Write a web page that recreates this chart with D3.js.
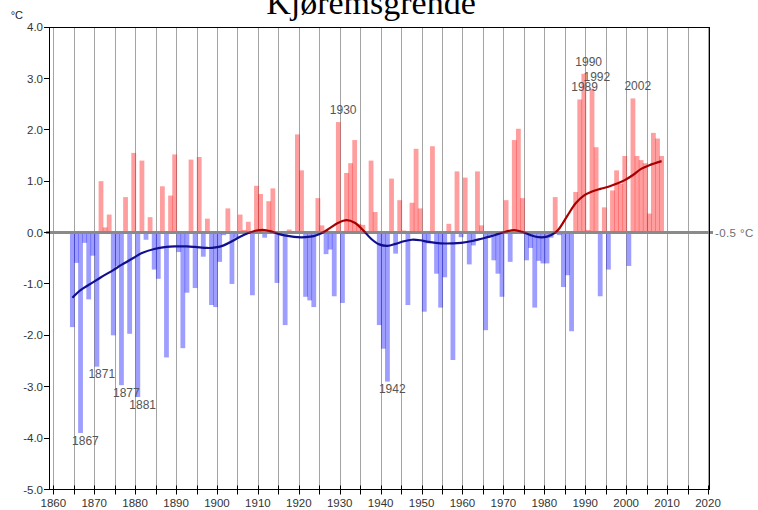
<!DOCTYPE html>
<html>
<head>
<meta charset="utf-8">
<script src="https://cdn.jsdelivr.net/npm/d3@7"></script>
<style>
  html, body { margin: 0; padding: 0; background: #ffffff; }
  svg { display: block; }
</style>
</head>
<body>
<svg id="chart" width="758" height="510"></svg>
<script>
// Station and units
const title = "Kjøremsgrende";
const unitLabel = "°C";
const baselineLabel = "-0.5 °C";

// Yearly temperature deviation (°C), one value per year starting at firstYear
const firstYear = 1865;
const anomalies = [
  -1.84, -0.59, -3.90, -0.20, -1.30, -0.45, -2.61,  1.00,  0.10,  0.35,   // 1865-1874
  -2.00, -0.65, -2.97,  0.69, -1.97,  1.55, -3.20,  1.40, -0.14,  0.30,   // 1875-1884
  -0.72, -0.90,  0.90, -2.43,  0.72,  1.52, -0.38, -2.25, -1.17,  1.42,   // 1885-1894
  -1.08,  1.47, -0.47,  0.27, -1.41, -1.45, -0.57, -0.05,  0.47, -1.00,   // 1895-1904
  -0.10,  0.35,  0.05,  0.21, -1.22,  0.91,  0.75, -0.10,  0.61,  0.86,   // 1905-1914
  -0.98, -0.03, -1.80,  0.06,  0.03,  1.91,  1.21, -1.25, -1.32, -1.45,   // 1915-1924
   0.67,  0.14, -0.42, -0.33, -1.24,  2.15, -1.37,  1.16,  1.35,  1.80,   // 1925-1934
   0.17,  0.15, -0.03,  1.40,  0.40, -1.80, -2.26, -2.90,  1.05, -0.41,   // 1935-1944
   0.63,  0.04, -1.41,  0.58,  1.63,  0.47, -1.54, -0.21,  1.68, -0.80,   // 1945-1954
  -1.46, -0.87,  0.17, -2.48,  1.19, -0.09,  1.07, -0.62, -0.25,  1.19,   // 1955-1964
   0.14, -1.90, -0.08, -0.54, -0.80, -1.25,  0.63, -0.57,  1.80,  2.02,   // 1965-1974
   0.67, -0.54, -0.30, -1.46, -0.55, -0.60, -0.60, -0.10,  0.69, -0.05,   // 1975-1984
  -1.06, -0.83, -1.92,  0.79,  2.59,  3.09,  0.05,  2.80,  1.66, -1.24,   // 1985-1994
   0.49, -0.72,  0.82,  1.21,  0.95,  1.49, -0.65,  2.61,  1.49,  1.41,   // 1995-2004
   1.35,  0.37,  1.94,  1.83,  1.49                                        // 2005-2009
];

// Smoothed (low-pass filtered) deviation curve
const smoothYears = [
  1865, 1867, 1870, 1872, 1875, 1877, 1880, 1882, 1885, 1888, 1890, 1893, 1895, 1898,
  1900, 1902, 1904, 1906, 1908, 1910, 1912, 1914, 1916, 1918, 1920, 1922, 1924, 1926,
  1928, 1930, 1932, 1934, 1936, 1938, 1940, 1942, 1944, 1946, 1948, 1950, 1952, 1955,
  1958, 1960, 1963, 1965, 1967, 1969, 1971, 1973, 1975, 1977, 1979, 1981, 1983, 1984,
  1986, 1988, 1990, 1992, 1994, 1996, 1998, 2000, 2002, 2004, 2006, 2009
];
const smoothValues = [
  -1.27, -1.12, -0.97, -0.87, -0.73, -0.63, -0.49, -0.40, -0.32, -0.28, -0.27, -0.27, -0.28, -0.30,
  -0.29, -0.25, -0.17, -0.08, -0.01,  0.04,  0.05,  0.01, -0.04, -0.07, -0.09, -0.09, -0.07, -0.01,
   0.09,  0.19,  0.24,  0.19,  0.05, -0.12, -0.23, -0.26, -0.22, -0.17, -0.14, -0.15, -0.18, -0.21,
  -0.21, -0.20, -0.16, -0.12, -0.08, -0.03,  0.02,  0.05,  0.01, -0.05, -0.09, -0.08,  0.00,  0.08,
   0.33,  0.57,  0.72,  0.80,  0.85,  0.89,  0.95,  1.02,  1.12,  1.24,  1.31,  1.39
];

// Axis ticks and annotated years
const yTicks = [-5, -4, -3, -2, -1, 0, 1, 2, 3, 4];
const xGridYears = d3.range(1860, 2021, 5);
const xLabelYears = d3.range(1860, 2021, 10);
const markedYears = [1867, 1871, 1877, 1881, 1930, 1942, 1989, 1990, 1992, 2002];

// ---------------------------------------------------------------------------
const svg = d3.select("#chart");
const frame = { left: 49.5, right: 709.5, top: 27.5, bottom: 489.5 };

const x = d3.scaleLinear().domain([1860, 2020]).range([53.3, 708]);
const y = d3.scaleLinear().domain([-5, 4]).range([489.5, 27]);
const barShift = -1.4;      // bars sit slightly left of their year tick
const barW = 4.8;
const cx = yr => x(yr) + barShift;
const y0 = y(0);
const crisp = v => Math.round(v) + 0.5;

const series = anomalies.map((v, i) => ({ year: firstYear + i, value: v }));
const smooth = smoothYears.map((yr, i) => ({ year: yr, value: smoothValues[i] }));

const sansFont = "'Liberation Sans', Arial, sans-serif";

// Title
svg.append("text")
  .attr("x", 371).attr("y", 14)
  .attr("text-anchor", "middle")
  .attr("font-family", "'Liberation Serif', 'Times New Roman', serif")
  .attr("font-size", 34)
  .attr("fill", "#000")
  .text(title);

// Unit label
svg.append("text")
  .attr("x", 23).attr("y", 19)
  .attr("text-anchor", "end")
  .attr("font-family", sansFont)
  .attr("font-size", 11)
  .attr("fill", "#222")
  .text(unitLabel);

// Vertical grid every five years
svg.append("g").selectAll("line")
  .data(xGridYears)
  .join("line")
  .attr("x1", d => crisp(x(d))).attr("x2", d => crisp(x(d)))
  .attr("y1", frame.top).attr("y2", frame.bottom)
  .attr("stroke", "#a4a4a4")
  .attr("stroke-width", 1);

// Yearly bars
svg.append("g").selectAll("rect")
  .data(series)
  .join("rect")
  .attr("x", d => cx(d.year) - barW / 2)
  .attr("width", barW)
  .attr("y", d => Math.min(y(d.value), y0))
  .attr("height", d => Math.abs(y(d.value) - y0))
  .attr("fill", d => d.value >= 0 ? "rgb(255,0,0)" : "rgb(0,0,255)")
  .attr("fill-opacity", 0.38);

// Zero line and its reference label
svg.append("line")
  .attr("x1", 46).attr("x2", 713)
  .attr("y1", y0).attr("y2", y0)
  .attr("stroke", "#8a8a8a")
  .attr("stroke-width", 3);
svg.append("text")
  .attr("x", 715).attr("y", y0 + 4)
  .attr("font-family", sansFont)
  .attr("font-size", 11.5)
  .attr("letter-spacing", 0.4)
  .attr("fill", "#6e6e6e")
  .text(baselineLabel);

// Smoothed curve: red above zero, blue below
const defs = svg.append("defs");
defs.append("clipPath").attr("id", "above")
  .append("rect").attr("x", 0).attr("y", 0).attr("width", 758).attr("height", y0);
defs.append("clipPath").attr("id", "below")
  .append("rect").attr("x", 0).attr("y", y0).attr("width", 758).attr("height", 510 - y0);

const lineGen = d3.line()
  .x(d => cx(d.year))
  .y(d => y(d.value))
  .curve(d3.curveCatmullRom.alpha(0.5));

svg.append("path")
  .datum(smooth)
  .attr("d", lineGen)
  .attr("fill", "none")
  .attr("stroke", "#10108c")
  .attr("stroke-width", 2.2)
  .attr("clip-path", "url(#below)");
svg.append("path")
  .datum(smooth)
  .attr("d", lineGen)
  .attr("fill", "none")
  .attr("stroke", "#a80000")
  .attr("stroke-width", 2.2)
  .attr("clip-path", "url(#above)");

// Year labels on the most extreme bars
svg.append("g").selectAll("text")
  .data(series.filter(d => markedYears.includes(d.year)))
  .join("text")
  .attr("x", d => cx(d.year) - 8.5)
  .attr("y", d => d.value >= 0 ? y(d.value) - 8 : y(d.value) + 11.6)
  .attr("font-family", sansFont)
  .attr("font-size", 12)
  .attr("fill", "#555")
  .text(d => d.year);

// Plot frame
svg.append("rect")
  .attr("x", frame.left).attr("y", frame.top)
  .attr("width", frame.right - frame.left)
  .attr("height", frame.bottom - frame.top)
  .attr("fill", "none")
  .attr("stroke", "#000")
  .attr("stroke-width", 1);

// Y axis ticks and labels
const yAxis = svg.append("g");
yAxis.selectAll("line")
  .data(yTicks)
  .join("line")
  .attr("x1", 44).attr("x2", frame.left)
  .attr("y1", d => crisp(y(d) - 0.5)).attr("y2", d => crisp(y(d) - 0.5))
  .attr("stroke", "#000");
yAxis.selectAll("text")
  .data(yTicks)
  .join("text")
  .attr("x", 43).attr("y", d => y(d))
  .attr("dy", "0.36em")
  .attr("text-anchor", "end")
  .attr("font-family", sansFont)
  .attr("font-size", 11.5)
  .attr("fill", "#333")
  .text(d => (d < 0 ? "-" : "") + Math.abs(d).toFixed(1));

// X axis ticks and labels
const xAxis = svg.append("g");
xAxis.selectAll("line")
  .data(xGridYears)
  .join("line")
  .attr("x1", d => crisp(x(d))).attr("x2", d => crisp(x(d)))
  .attr("y1", frame.bottom - 4).attr("y2", frame.bottom + 5)
  .attr("stroke", "#000");
xAxis.selectAll("text")
  .data(xLabelYears)
  .join("text")
  .attr("x", d => x(d)).attr("y", 507)
  .attr("text-anchor", "middle")
  .attr("font-family", sansFont)
  .attr("font-size", 11.5)
  .attr("fill", "#333")
  .text(d => d);
</script>
</body>
</html>
